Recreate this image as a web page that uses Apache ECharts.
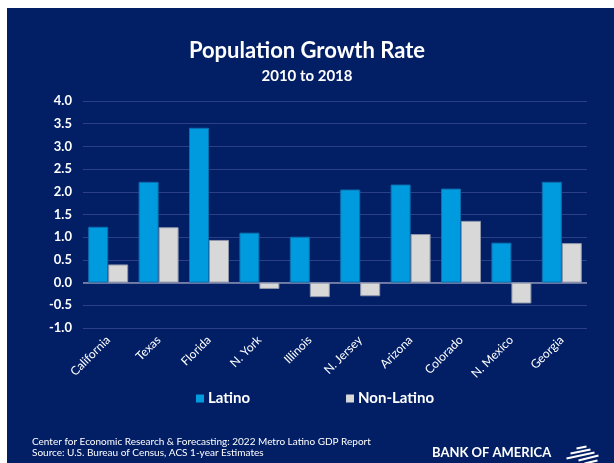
<!DOCTYPE html>
<html><head><meta charset="utf-8">
<script src="https://cdn.jsdelivr.net/npm/echarts@6/dist/echarts.min.js"></script>
<style>html,body{margin:0;padding:0;background:#fff}#c{width:614px;height:463px}</style>
</head><body><div id="c"></div>
<script>
const categories = ['California','Texas','Florida','N. York','Illinois','N. Jersey','Arizona','Colorado','N. Mexico','Georgia'];
const latino = [1.23, 2.22, 3.41, 1.10, 1.01, 2.05, 2.16, 2.07, 0.88, 2.22];
const nonLatino = [0.40, 1.22, 0.94, -0.14, -0.32, -0.30, 1.07, 1.36, -0.46, 0.87];
const seriesNames = ['Latino', 'Non-Latino'];

const NAVY = '#021F66';
const FONT = 'Lato';
const chart = echarts.init(document.getElementById('c'));
chart.setOption({
  backgroundColor: '#ffffff',
  textStyle: {fontFamily: FONT},
  graphic: [
    {type:'rect', z:-10, shape:{x:7, y:8, width:607, height:455}, style:{fill:NAVY}, silent:true},
    {type:'text', left:32, top:437, style:{text:'Center for Economic Research & Forecasting: 2022 Metro Latino GDP Report', fill:'#fff', font:'10px '+FONT}},
    {type:'text', left:32, top:448, style:{text:'Source: U.S. Bureau of Census, ACS 1-year Estimates', fill:'#fff', font:'10px '+FONT}},
    {type:'text', left:432, top:446, style:{text:'BANK OF AMERICA', fill:'#fff', font:'bold 13px '+FONT, letterSpacing:1.5}},
    {type:'group', left:564, top:444, children:[
      {type:'polyline', shape:{points:[[12,2],[22,0]]}, style:{stroke:'#fff', lineWidth:2}},
      {type:'polyline', shape:{points:[[6,7],[26,3]]}, style:{stroke:'#fff', lineWidth:2}},
      {type:'polyline', shape:{points:[[2,12],[30,6]]}, style:{stroke:'#fff', lineWidth:2}},
      {type:'polyline', shape:{points:[[14,14],[34,9]]}, style:{stroke:'#fff', lineWidth:2}},
      {type:'polyline', shape:{points:[[20,17],[33,14]]}, style:{stroke:'#fff', lineWidth:2}}
    ]}
  ],
  title: [
    {text:'Population Growth Rate', left:'center', top:35, textStyle:{color:'#fff', fontSize:22, fontWeight:'bold', fontFamily:FONT}},
    {text:'2010 to 2018', left:'center', top:64, textStyle:{color:'#fff', fontSize:15, fontWeight:'bold', fontFamily:FONT}}
  ],
  legend: {
    data: seriesNames, left:191, top:386, itemWidth:8, itemHeight:8, itemGap:96,
    icon:'rect', itemStyle:{borderWidth:0},
    textStyle:{color:'#fff', fontSize:15, fontWeight:'bold', fontFamily:FONT, padding:[0,0,0,-1]}
  },
  grid: {left:83, right:27, top:101, bottom:135, containLabel:false},
  xAxis: {
    type:'category', data:categories,
    axisLine:{show:false}, axisTick:{show:false},
    axisLabel:{color:'#fff', fontSize:12, rotate:45, margin:10, interval:0, fontFamily:FONT}
  },
  yAxis: {
    type:'value', min:-1, max:4, interval:0.5,
    axisLine:{show:false}, axisTick:{show:false},
    axisLabel:{color:'#fff', fontSize:13, fontWeight:'bold', margin:11, formatter:v=>v.toFixed(1), fontFamily:FONT},
    splitLine:{lineStyle:{color:'#2C4088', width:1}}
  },
  series: [
    {name:seriesNames[0], type:'bar', data:latino, barWidth:20, barGap:'0%',
     itemStyle:{color:'#009BDE', borderColor:'#0B6FAE', borderWidth:1},
     markLine:{silent:true, symbol:'none', label:{show:false}, lineStyle:{color:'#8A93B5', type:'solid', width:1.5}, data:[{yAxis:0}], z:1}},
    {name:seriesNames[1], type:'bar', data:nonLatino, barWidth:20,
     itemStyle:{color:'#D8D8D8', borderColor:'#8E95AA', borderWidth:1}}
  ]
});
</script></body></html>
